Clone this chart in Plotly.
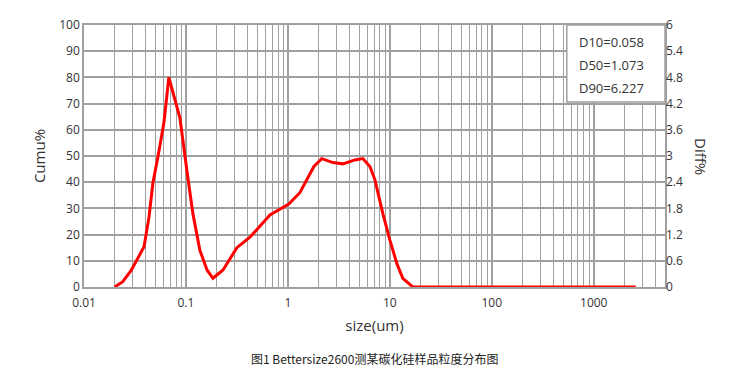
import plotly.graph_objects as go

# particle size (um) and differential distribution (%)
size_um = [0.020, 0.024, 0.029, 0.034, 0.0388, 0.0434, 0.0474, 0.0531, 0.0608, 0.068,
           0.0873, 0.102, 0.117, 0.137, 0.161, 0.184, 0.231, 0.316, 0.424, 0.667,
           0.894, 1.02, 1.31, 1.54, 1.80, 2.15, 2.76, 3.46, 4.54, 5.44,
           6.37, 7.13, 8.54, 10.0, 11.7, 13.4, 16.8, 50.0, 200.0, 1000.0, 2580.0]
diff_pct = [0.0, 0.12, 0.38, 0.68, 0.92, 1.6, 2.38, 2.98, 3.76, 4.8,
            3.87, 2.68, 1.68, 0.84, 0.39, 0.2, 0.39, 0.9, 1.14, 1.65,
            1.83, 1.9, 2.16, 2.46, 2.76, 2.94, 2.85, 2.82, 2.91, 2.94,
            2.76, 2.46, 1.68, 1.08, 0.54, 0.2, 0.0, 0.0, 0.0, 0.0, 0.0]

x_tickvals = [0.01, 0.1, 1, 10, 100, 1000]
x_ticktext = ["0.01", "0.1", "1", "10", "100", "1000"]
y_left_ticks = [0, 10, 20, 30, 40, 50, 60, 70, 80, 90, 100]
y_right_ticks = [0, 0.6, 1.2, 1.8, 2.4, 3, 3.6, 4.2, 4.8, 5.4, 6]
y_right_text = ["0", "0.6", "1.2", "1.8", "2.4", "3", "3.6", "4.2", "4.8", "5.4", "6"]
stats = ["D10=0.058", "D50=1.073", "D90=6.227"]
caption = "图1 Bettersize2600测某碳化硅样品粒度分布图"

grid = "#a0a0a0"
tickfont = dict(family="Open Sans, DejaVu Sans", size=12, color="#333333")

fig = go.Figure()
# invisible helper so the left (Cumu%) axis is drawn
fig.add_trace(go.Scatter(x=[size_um[0]], y=[0], mode="markers", yaxis="y",
                         marker=dict(opacity=0), hoverinfo="skip", showlegend=False))
fig.add_trace(go.Scatter(x=size_um, y=diff_pct, mode="lines", yaxis="y2",
                         line=dict(color="#ff0000", width=3), showlegend=False))

fig.update_layout(
    width=738, height=379,
    margin=dict(l=76, r=81, t=17, b=100, autoexpand=False),
    paper_bgcolor="white", plot_bgcolor="white",
    xaxis=dict(type="log", range=[-2, 3.699], tickvals=x_tickvals, ticktext=x_ticktext,
               showgrid=True, gridcolor=grid, gridwidth=1.5,
               minor=dict(showgrid=True, gridcolor=grid, gridwidth=1.2, dtick="D1", ticks=""),
               showline=True, linecolor=grid, linewidth=1.5, mirror=True,
               ticks="", tickfont=tickfont, zeroline=False, ticklabelstandoff=4,
               title=dict(text="size(um)", font=dict(family="Open Sans, DejaVu Sans", size=15, color="#333333"),
                          standoff=10)),
    yaxis=dict(range=[0, 100], tickvals=y_left_ticks, showgrid=True, gridcolor=grid, gridwidth=1.5,
               showline=True, linecolor=grid, linewidth=1.5, mirror=True, ticks="",
               tickfont=tickfont, zeroline=False,
               title=dict(text="Cumu%", font=dict(family="Open Sans, DejaVu Sans", size=15, color="#333333"),
                          standoff=10)),
    yaxis2=dict(range=[0, 6], tickvals=y_right_ticks, ticktext=y_right_text, overlaying="y", side="right",
                showgrid=False, ticks="", tickfont=tickfont, zeroline=False, showline=False),
)

# stats box
fig.add_shape(type="rect", xref="paper", yref="paper", x0=0.831, x1=1.0, y0=0.706, y1=1.0,
              line=dict(color=grid, width=1.5), fillcolor="white", layer="above")
for i, s in enumerate(stats):
    fig.add_annotation(xref="paper", yref="paper", x=0.849, y=0.937 - i * 0.088, text=s,
                       showarrow=False, xanchor="left", yanchor="middle",
                       font=dict(family="Open Sans, DejaVu Sans", size=13, color="#333333"))

# right axis title
fig.add_annotation(xref="paper", yref="paper", x=1.0, xshift=48, y=0.5, text="Diff%",
                   textangle=90, showarrow=False,
                   font=dict(family="Open Sans, DejaVu Sans", size=15, color="#333333"))

# caption
fig.add_annotation(xref="paper", yref="paper", x=0.5, y=0, yshift=-71, text=caption,
                   showarrow=False, yanchor="middle",
                   font=dict(family="Noto Sans CJK SC", size=12, color="#222222"))

fig.write_html("out.html")
